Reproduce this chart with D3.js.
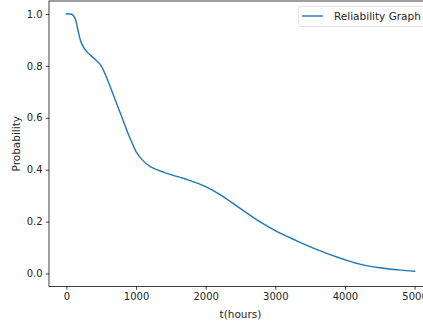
<!DOCTYPE html>
<html>
<head>
<meta charset="utf-8">
<script src="https://cdn.jsdelivr.net/npm/d3@7"></script>
<style>
  html, body { margin: 0; padding: 0; background: #fff; }
  svg { display: block; font-family: "DejaVu Sans", sans-serif; }
</style>
</head>
<body>
<svg id="chart" width="423" height="325"></svg>
<script>
const hours = [0, 50, 80, 100, 130, 160, 200, 250, 300, 400, 500, 600, 700, 800, 900, 1000, 1100, 1200, 1300, 1500, 1700, 2000, 2200, 2500, 2800, 3000, 3300, 3600, 4000, 4200, 4500, 4800, 5000];
const probability = [1.0, 1.0, 0.998, 0.993, 0.98, 0.945, 0.90, 0.87, 0.853, 0.828, 0.80, 0.74, 0.67, 0.60, 0.53, 0.47, 0.435, 0.413, 0.400, 0.381, 0.365, 0.335, 0.305, 0.250, 0.196, 0.165, 0.127, 0.092, 0.053, 0.037, 0.022, 0.013, 0.009];
const xTicks = [0, 1000, 2000, 3000, 4000, 5000];
const yTicks = [0.0, 0.2, 0.4, 0.6, 0.8, 1.0];
const seriesName = "Reliability Graph";
const xLabel = "t(hours)";
const yLabel = "Probability";

const svg = d3.select("#chart");
const mLeft = 49, mRight = 432, mTop = 1, mBottom = 286.5;
const x = d3.scaleLinear().domain([-250, 5250]).range([mLeft, mRight]);
const y = d3.scaleLinear().domain([-0.05, 1.05]).range([mBottom, mTop]);
const tickFs = 10;
const labelFs = 10.5;
const textColor = "#262626";

// line
const data = hours.map((h, i) => ({ h, p: probability[i] }));
svg.append("path")
  .datum(data)
  .attr("fill", "none")
  .attr("stroke", "#1f77b4")
  .attr("stroke-width", 1.4)
  .attr("stroke-linejoin", "round")
  .attr("stroke-linecap", "square")
  .attr("d", d3.line().x(d => x(d.h)).y(d => y(d.p)).curve(d3.curveMonotoneX));

// axes
const xAxis = d3.axisBottom(x).tickValues(xTicks).tickFormat(d3.format("d")).tickSize(3.2).tickPadding(3.2).tickSizeOuter(0);
const yAxis = d3.axisLeft(y).tickValues(yTicks).tickFormat(d3.format(".1f")).tickSize(3.2).tickPadding(3.2).tickSizeOuter(0);

const gx = svg.append("g").attr("transform", `translate(0,${mBottom})`).call(xAxis);
const gy = svg.append("g").attr("transform", `translate(${mLeft},0)`).call(yAxis);
[gx, gy].forEach(g => {
  g.select(".domain").remove();
  g.selectAll(".tick line").attr("stroke", "#000").attr("stroke-width", 0.75);
  g.selectAll(".tick text").attr("fill", textColor).style("font-size", tickFs + "px").style("font-family", "DejaVu Sans");
});

// spines
svg.append("rect")
  .attr("x", mLeft).attr("y", mTop)
  .attr("width", mRight - mLeft).attr("height", mBottom - mTop)
  .attr("fill", "none").attr("stroke", "#000").attr("stroke-width", 0.75);

// axis labels
svg.append("text")
  .attr("x", (mLeft + mRight) / 2).attr("y", 318)
  .attr("text-anchor", "middle")
  .attr("fill", textColor)
  .style("font-size", labelFs + "px")
  .text(xLabel);

svg.append("text")
  .attr("transform", `translate(20,${(mTop + mBottom) / 2}) rotate(-90)`)
  .attr("text-anchor", "middle")
  .attr("fill", textColor)
  .style("font-size", labelFs + "px")
  .text(yLabel);

// legend
const lg = svg.append("g");
lg.append("rect")
  .attr("x", 298.5).attr("y", 6.5)
  .attr("width", 140).attr("height", 20)
  .attr("rx", 2)
  .attr("fill", "#fff").attr("fill-opacity", 0.8)
  .attr("stroke", "#d9d9d9").attr("stroke-width", 0.75);
lg.append("line")
  .attr("x1", 302).attr("x2", 323)
  .attr("y1", 16).attr("y2", 16)
  .attr("stroke", "#1f77b4").attr("stroke-width", 1.4);
lg.append("text")
  .attr("x", 334).attr("y", 19.8)
  .attr("fill", textColor)
  .style("font-size", labelFs + "px")
  .text(seriesName);
</script>
</body>
</html>
